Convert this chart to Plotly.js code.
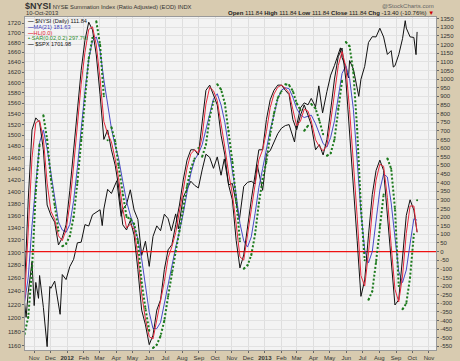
<!DOCTYPE html>
<html><head><meta charset="utf-8">
<script src="https://cdn.plot.ly/plotly-3.0.1.min.js"></script>
<style>html,body{margin:0;padding:0;background:#d8cbb0;}#c{width:460px;height:361px;}</style>
</head><body><div id="c"></div>
<script>
const dates = ['2011-10-14','2011-10-21','2011-10-28','2011-11-04','2011-11-11','2011-11-18','2011-11-25','2011-12-02','2011-12-09','2011-12-16','2011-12-23','2011-12-30',
'2012-01-06','2012-01-13','2012-01-20','2012-01-27','2012-02-03','2012-02-10','2012-02-17','2012-02-24','2012-03-02','2012-03-09','2012-03-16','2012-03-23','2012-03-30','2012-04-05','2012-04-13','2012-04-20','2012-04-27','2012-05-04','2012-05-11','2012-05-18','2012-05-25','2012-06-01','2012-06-08','2012-06-15','2012-06-22','2012-06-29','2012-07-06','2012-07-13','2012-07-20','2012-07-27','2012-08-03','2012-08-10','2012-08-17','2012-08-24','2012-08-31','2012-09-07','2012-09-14','2012-09-21','2012-09-28','2012-10-05','2012-10-12','2012-10-19','2012-10-26','2012-11-02','2012-11-09','2012-11-16','2012-11-23','2012-11-30','2012-12-07','2012-12-14','2012-12-21','2012-12-28',
'2013-01-04','2013-01-11','2013-01-18','2013-01-25','2013-02-01','2013-02-08','2013-02-15','2013-02-22','2013-03-01','2013-03-08','2013-03-15','2013-03-22','2013-03-28','2013-04-05','2013-04-12','2013-04-19','2013-04-26','2013-05-03','2013-05-10','2013-05-17','2013-05-24','2013-05-31','2013-06-07','2013-06-14','2013-06-21','2013-06-28','2013-07-05','2013-07-12','2013-07-19','2013-07-26','2013-08-02','2013-08-09','2013-08-16','2013-08-23','2013-08-30','2013-09-06','2013-09-13','2013-09-20','2013-09-27','2013-10-04','2013-10-10'];

const nysi = [-225,300,705,775,750,590,270,210,170,38,80,155,
355,590,850,1050,1225,1330,1285,1140,910,650,705,590,500,385,155,125,180,95,-105,-340,-425,-540,-485,-340,-280,-105,10,40,155,270,415,530,590,590,560,735,935,965,910,850,675,560,385,300,65,-95,-20,155,300,445,590,590,
765,880,935,965,965,935,910,765,705,790,850,790,735,590,620,560,650,820,1000,1130,1180,1000,705,415,65,-260,-165,95,330,470,530,470,210,-80,-310,-280,-50,210,300,240,112];

const nysiRed = [-300,90,543,747,760,654,398,234,186,91,63,125,
275,496,746,970,1155,1288,1303,1198,1002,754,683,636,536,431,247,137,158,129,-25,-246,-391,-494,-507,-398,-304,-175,-36,28,109,224,357,484,566,590,572,665,855,953,932,874,745,606,455,334,159,-31,-50,85,242,387,532,590,
695,834,913,953,965,947,920,823,729,756,826,814,757,648,608,584,614,752,928,1078,1160,1072,823,531,205,-140,-200,-9,236,414,506,494,314,36,-218,-292,-142,106,264,264,112];

const ma21 = [-300,-150,150,390,632,705,596,455,310,172,125,111,
157,295,487,711,929,1114,1222,1245,1166,996,851,714,611,545,407,291,211,139,74,-42,-194,-352,-447,-447,-411,-302,-179,-84,25,119,220,342,451,531,567,619,705,799,886,915,850,749,617,480,327,164,62,26,85,220,372,481,
597,706,792,886,936,950,944,894,829,792,777,784,791,741,684,626,605,662,758,900,1032,1078,1004,825,546,230,10,-66,0,182,356,450,432,282,72,-115,-180,-107,45,190,182];

const sar = [-480,-380,-100,350,620,790,650,420,270,120,30,45,
90,200,400,650,900,1120,1240,1335,1200,900,645,720,640,500,330,200,190,160,60,-180,-330,-460,-560,-540,-490,-400,-260,-120,0,120,250,380,480,540,600,550,620,780,870,970,940,860,700,520,300,60,-100,-80,-20,100,280,420,
520,680,800,890,930,970,965,930,860,820,700,730,855,830,760,680,555,570,650,830,990,1215,1190,1040,710,250,-50,-280,-230,-60,150,330,540,480,250,-200,-335,-300,-150,100,297.7];

const spxDates = ['2011-10-14','2011-10-17','2011-10-21','2011-10-27','2011-10-28','2011-11-01','2011-11-04','2011-11-09','2011-11-11','2011-11-18','2011-11-25','2011-11-30','2011-12-02','2011-12-09','2011-12-19','2011-12-23','2011-12-30',
'2012-01-06','2012-01-13','2012-01-20','2012-01-27','2012-02-03','2012-02-10','2012-02-17','2012-02-24','2012-03-02','2012-03-06','2012-03-09','2012-03-16','2012-03-23','2012-04-02','2012-04-10','2012-04-13','2012-04-20','2012-04-27','2012-05-04','2012-05-11','2012-05-18','2012-05-25','2012-06-01','2012-06-08','2012-06-15','2012-06-22','2012-06-29','2012-07-06','2012-07-12','2012-07-20','2012-07-25','2012-08-03','2012-08-10','2012-08-17','2012-08-24','2012-08-31','2012-09-07','2012-09-14','2012-09-21','2012-09-28','2012-10-05','2012-10-12','2012-10-18','2012-10-26','2012-11-02','2012-11-09','2012-11-15','2012-11-23','2012-11-30','2012-12-07','2012-12-14','2012-12-18','2012-12-28','2012-12-31',
'2013-01-04','2013-01-11','2013-01-18','2013-01-25','2013-02-01','2013-02-08','2013-02-15','2013-02-25','2013-03-01','2013-03-08','2013-03-15','2013-03-22','2013-03-28','2013-04-05','2013-04-11','2013-04-18','2013-04-26','2013-05-03','2013-05-10','2013-05-21','2013-05-24','2013-05-31','2013-06-05','2013-06-07','2013-06-14','2013-06-24','2013-06-28','2013-07-05','2013-07-12','2013-07-19','2013-07-26','2013-08-02','2013-08-09','2013-08-16','2013-08-23','2013-08-27','2013-08-30','2013-09-06','2013-09-13','2013-09-18','2013-09-20','2013-09-27','2013-10-04','2013-10-08','2013-10-10'];
const spx = [1224.58,1200.86,1238.25,1284.59,1285.09,1218.28,1253.23,1229.10,1263.85,1215.65,1158.67,1246.96,1244.28,1255.19,1205.35,1265.33,1257.60,
1277.81,1289.09,1315.38,1316.33,1344.90,1342.64,1361.23,1365.74,1369.63,1343.36,1370.87,1404.17,1397.11,1419.04,1358.59,1370.26,1378.53,1403.36,1369.10,1353.39,1295.22,1317.82,1278.04,1325.66,1342.84,1335.02,1362.16,1354.68,1334.76,1362.66,1337.89,1390.99,1405.87,1418.16,1411.13,1406.58,1437.92,1465.77,1460.15,1440.67,1460.93,1428.59,1457.34,1411.94,1414.20,1379.85,1353.33,1409.15,1416.18,1418.07,1413.58,1446.79,1402.43,1426.19,
1466.47,1472.05,1485.98,1502.96,1513.17,1517.93,1519.79,1487.85,1518.20,1551.18,1560.70,1556.89,1569.19,1553.28,1593.37,1541.61,1582.24,1614.42,1633.70,1669.16,1649.60,1630.74,1608.90,1643.38,1626.73,1573.09,1606.28,1631.89,1680.19,1692.09,1691.65,1709.67,1691.42,1655.83,1663.50,1630.48,1632.97,1655.17,1687.99,1725.52,1709.91,1691.75,1690.50,1655.45,1701.98];

const hlLevel = 0;
const xRange = ['2011-10-15','2013-11-14'];

const monthTicks = ['2011-11-01','2011-12-01','2012-01-01','2012-02-01','2012-03-01','2012-04-01','2012-05-01','2012-06-01','2012-07-01','2012-08-01','2012-09-01','2012-10-01','2012-11-01','2012-12-01','2013-01-01','2013-02-01','2013-03-01','2013-04-01','2013-05-01','2013-06-01','2013-07-01','2013-08-01','2013-09-01','2013-10-01','2013-11-01'];
const monthLabels = ['Nov','Dec','<b>2012</b>','Feb','Mar','Apr','May','Jun','Jul','Aug','Sep','Oct','Nov','Dec','<b>2013</b>','Feb','Mar','Apr','May','Jun','Jul','Aug','Sep','Oct','Nov'];

const leftTicks = []; for (let v = 1160; v <= 1720; v += 20) leftTicks.push(v);
const rightTicks = []; for (let v = -550; v <= 1350; v += 50) rightTicks.push(v);

// split the SAR dots into the run above and the run below the index, so each run is drawn separately
const sarAbove = sar.map((v, i) => v > nysi[i] ? v : null);
const sarBelow = sar.map((v, i) => v <= nysi[i] ? v : null);

const F = 'Liberation Sans, Arial, sans-serif';
const sarStyle = {mode: 'lines+markers', line: {color: '#1d7a1d', width: 2, dash: '2px,2px'}, marker: {color: '#1d7a1d', size: 2}, connectgaps: false};
const traces = [
  {x: spxDates, y: spx, yaxis: 'y', mode: 'lines', line: {color: '#111', width: 1}},
  {x: xRange, y: [hlLevel, hlLevel], yaxis: 'y2', mode: 'lines', line: {color: '#ee1111', width: 1.2}},
  {x: dates, y: ma21, yaxis: 'y2', mode: 'lines', line: {color: '#4a4ac8', width: 1}},
  {x: dates, y: nysi, yaxis: 'y2', mode: 'lines', line: {color: '#111', width: 1}},
  {x: dates, y: nysiRed, yaxis: 'y2', mode: 'lines', line: {color: '#e8283c', width: 1}},
  Object.assign({x: dates, y: sarAbove, yaxis: 'y2'}, sarStyle),
  Object.assign({x: dates, y: sarBelow, yaxis: 'y2'}, sarStyle)
];

const W = 411, H = 333, L = 25, T = 17;
const px = x => (x - L) / W, py = y => 1 - (y - T) / H;
const ann = (x, y, text, opts) => Object.assign({xref: 'paper', yref: 'paper', x: px(x), y: py(y), text: text, showarrow: false, xanchor: 'left', yanchor: 'middle', font: {family: F, size: 6, color: '#222'}}, opts || {});

const annotations = [
  ann(23, 6, '<b><span style="font-size:9px">$NYSI</span></b> NYSE Summation Index (Ratio Adjusted) (EOD) INDX', {font: {family: F, size: 5.8, color: '#333'}}),
  ann(24, 13, '10-Oct-2013', {font: {family: F, size: 5.8, color: '#333'}}),
  ann(436, 5.5, '@StockCharts.com', {xanchor: 'right', font: {family: F, size: 6, color: '#666'}}),
  ann(436, 13.5, '<b>Open</b> 111.84 <b>High</b> 111.84 <b>Low</b> 111.84 <b>Close</b> 111.84 <b>Chg</b> -13.40 (-10.76%) <span style="color:#c00">▼</span>', {xanchor: 'right', font: {family: F, size: 6, color: '#222'}}),
  ann(26, 21.5, '<b>—</b> $NYSI (Daily) 111.84', {font: {family: F, size: 5.6, color: '#111'}}),
  ann(26, 27, '<b>—</b>MA(21) 181.63', {font: {family: F, size: 5.6, color: '#3a3ab8'}}),
  ann(26, 32.5, '<b>—</b>HL(0.0)', {font: {family: F, size: 5.6, color: '#e02030'}}),
  ann(26, 38, '•·SAR(0.02,0.2) 297.7%', {font: {family: F, size: 5.6, color: '#2a8a2a'}}),
  ann(26, 43.5, '<b>—</b> $SPX 1701.98', {font: {family: F, size: 5.6, color: '#111'}})
];

const layout = {
  width: 460, height: 361,
  margin: {l: L, r: 460 - L - W, t: T, b: 361 - T - H, pad: 0},
  paper_bgcolor: '#d8cbb0', plot_bgcolor: '#f3f3f3',
  showlegend: false,
  xaxis: {type: 'date', range: xRange, tickmode: 'array', tickvals: monthTicks, ticktext: monthLabels,
    tickfont: {family: F, size: 6, color: '#333'}, ticks: 'outside', ticklen: 2, tickcolor: '#666',
    showgrid: true, gridcolor: '#dedede', gridwidth: 1, showline: true, linecolor: '#999', mirror: true, zeroline: false, fixedrange: true},
  yaxis: {type: 'log', range: [Math.log10(1153.9), Math.log10(1733.3)], tickmode: 'array', tickvals: leftTicks, ticktext: leftTicks.map(String),
    tickfont: {family: F, size: 6, color: '#333'}, ticks: 'outside', ticklen: 2, tickcolor: '#666', showgrid: false, showline: true, linecolor: '#999', zeroline: false},
  yaxis2: {overlaying: 'y', side: 'right', range: [-571, 1360], tickmode: 'array', tickvals: rightTicks, ticktext: rightTicks.map(String),
    tickfont: {family: F, size: 6, color: '#333'}, ticks: 'outside', ticklen: 2, tickcolor: '#666', showgrid: true, gridcolor: '#e2e2e2', gridwidth: 1, zeroline: false, showline: true, linecolor: '#999'},
  annotations: annotations
};

Plotly.newPlot('c', traces, layout, {staticPlot: true, displayModeBar: false});
</script></body></html>
